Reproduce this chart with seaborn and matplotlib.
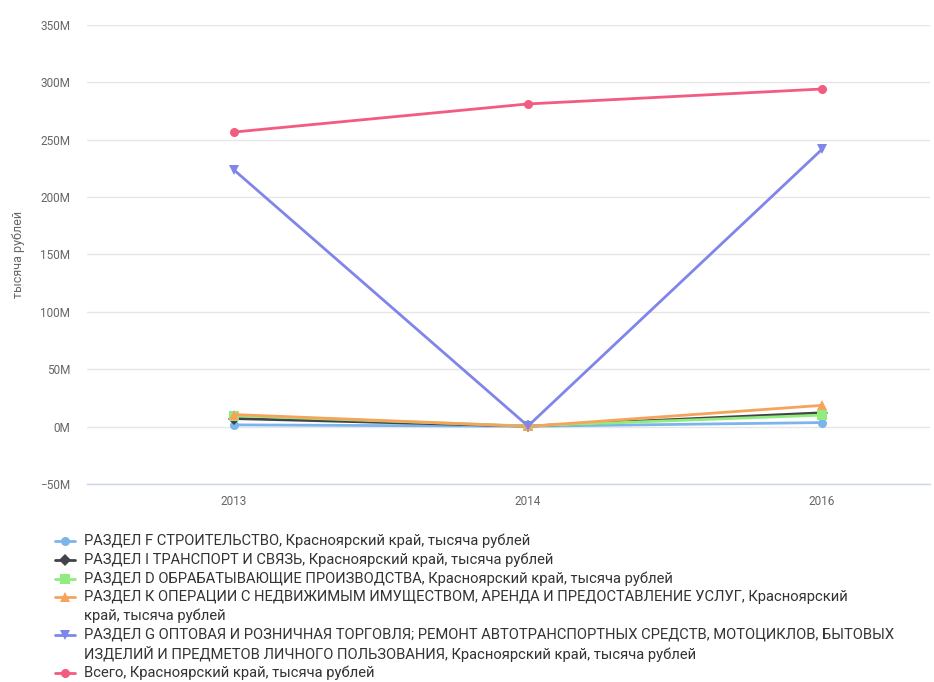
import matplotlib
matplotlib.use("Agg")
import matplotlib.pyplot as plt
import seaborn as sns
import pandas as pd
from matplotlib.lines import Line2D
from matplotlib.ticker import FuncFormatter, FixedLocator

# Data: thousand roubles, Krasnoyarsk Krai
years = ["2013", "2014", "2016"]
series_names = [
    "РАЗДЕЛ F СТРОИТЕЛЬСТВО, Красноярский край, тысяча рублей",
    "РАЗДЕЛ I ТРАНСПОРТ И СВЯЗЬ, Красноярский край, тысяча рублей",
    "РАЗДЕЛ D ОБРАБАТЫВАЮЩИЕ ПРОИЗВОДСТВА, Красноярский край, тысяча рублей",
    "РАЗДЕЛ К ОПЕРАЦИИ С НЕДВИЖИМЫМ ИМУЩЕСТВОМ, АРЕНДА И ПРЕДОСТАВЛЕНИЕ УСЛУГ, Красноярский\nкрай, тысяча рублей",
    "РАЗДЕЛ G ОПТОВАЯ И РОЗНИЧНАЯ ТОРГОВЛЯ; РЕМОНТ АВТОТРАНСПОРТНЫХ СРЕДСТВ, МОТОЦИКЛОВ, БЫТОВЫХ\nИЗДЕЛИЙ И ПРЕДМЕТОВ ЛИЧНОГО ПОЛЬЗОВАНИЯ, Красноярский край, тысяча рублей",
    "Всего, Красноярский край, тысяча рублей",
]
section_f = [1.5e6, 0.3e6, 3.5e6]
section_i = [7.0e6, 0.4e6, 12.0e6]
section_d = [9.5e6, 0.5e6, 10.0e6]
section_k = [10.5e6, 0.2e6, 18.5e6]
section_g = [223.5e6, 0.5e6, 241.5e6]
total = [256.5e6, 281.0e6, 294.0e6]

colors = ["#7cb5ec", "#434348", "#90ed7d", "#f7a35c", "#8085e9", "#f15c80"]
markers = ["o", "D", "s", "^", "v", "o"]

values = [section_f, section_i, section_d, section_k, section_g, total]
rows = []
for name, vals in zip(series_names, values):
    for yr, v in zip(years, vals):
        rows.append({"year": yr, "value": v, "series": name})
df = pd.DataFrame(rows)

sns.set_theme(style="white")
plt.rcParams["font.family"] = ["Roboto", "DejaVu Sans"]

W, H = 934, 682
fig = plt.figure(figsize=(W / 100, H / 100), dpi=100)
left, right, top, bottom = 87, 930, 24.7, 484
ax = fig.add_axes([left / W, 1 - bottom / H, (right - left) / W, (bottom - top) / H])

sns.lineplot(
    data=df, x="year", y="value", hue="series", style="series",
    hue_order=series_names, style_order=series_names,
    palette=colors, markers=markers, dashes=False,
    linewidth=2, markersize=6.5, markeredgewidth=0,
    legend=False, ax=ax, sort=False,
)

# each category occupies a band of fixed pixel width; the plot area clips the last one
band = 294.0
ax.set_xlim(-0.5, -0.5 + (right - left) / band)
ax.set_ylim(-50e6, 350e6)

ax.yaxis.set_major_locator(FixedLocator([i * 50e6 for i in range(-1, 8)]))
ax.yaxis.set_major_formatter(FuncFormatter(lambda v, p: f"{v / 1e6:.0f}M".replace("-", "−")))
ax.grid(axis="y", color="#e6e6e6", linewidth=1)
ax.grid(axis="x", visible=False)
ax.set_axisbelow(True)

for s in ["top", "right", "left"]:
    ax.spines[s].set_visible(False)
ax.spines["bottom"].set_color("#ccd6eb")
ax.spines["bottom"].set_linewidth(1)

ax.set_xticks(range(len(years)))
ax.set_xticklabels(years)
ax.set_xticks([-0.5, 0.5, 1.5], minor=True)
ax.tick_params(axis="x", which="major", length=0, pad=8, labelsize=8.5, labelcolor="#666666")
ax.tick_params(axis="x", which="minor", length=9, width=1, color="#ccd6eb", direction="out")
ax.tick_params(axis="y", length=0, pad=12, labelsize=8.5, labelcolor="#666666")

ax.set_xlabel("")
ax.set_ylabel("тысяча рублей", fontsize=9, color="#666666", labelpad=11)

# legend below the plot: one row per text line, symbol on the first line of each item
series_lines = ax.get_lines()[: len(series_names)]
row_y = 541.0
pitch = 18.8
for line, name in zip(series_lines, series_names):
    fy = 1 - row_y / H
    fig.add_artist(Line2D([55 / W, 75 / W], [fy, fy], transform=fig.transFigure,
                          color=line.get_color(), linewidth=2))
    fig.add_artist(Line2D([65 / W], [fy], transform=fig.transFigure,
                          color=line.get_color(), marker=line.get_marker(),
                          markersize=6.5, markeredgewidth=0, linestyle="none"))
    for k, part in enumerate(name.split("\n")):
        fig.text(84 / W, 1 - (row_y + k * pitch) / H, part, fontsize=10.6,
                 color="#333333", va="center", ha="left")
    row_y += pitch * (name.count("\n") + 1)

fig.savefig("out.png", dpi=100)
